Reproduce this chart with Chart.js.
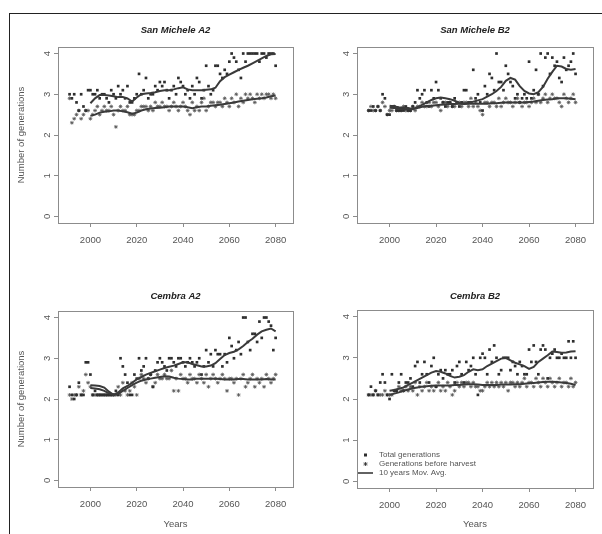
<!DOCTYPE html>
<html>
<head>
<meta charset="utf-8">
<script src="https://cdn.jsdelivr.net/npm/chart.js@4.4.0/dist/chart.umd.min.js"></script>
<style>
  body { margin: 0; background: #fff; }
  #page { position: relative; width: 602px; height: 534px; overflow: hidden; background: #fff; }
  #frame { position: absolute; left: 9px; top: 13px; width: 600px; height: 530px;
           border-left: 1px solid #222; border-top: 1px solid #222; }
  #page canvas { position: absolute; }
</style>
</head>
<body>
<div id="page">
  <div id="frame"></div>
  <canvas id="p1" width="292" height="246" style="left:10px; top:14px;"></canvas>
  <canvas id="p2" width="300" height="246" style="left:302px; top:14px;"></canvas>
  <canvas id="p3" width="292" height="272" style="left:10px; top:262px;"></canvas>
  <canvas id="p4" width="300" height="272" style="left:302px; top:262px;"></canvas>
</div>

<script>
  // yearly values 1991-2080, moving averages read every 2 years 2000-2080
  const years = Array.from({ length: 90 }, (_, i) => 1991 + i);
  const maYears = Array.from({ length: 41 }, (_, i) => 2000 + 2 * i);
  const xTicks = [2000, 2020, 2040, 2060, 2080];
  const yTicks = [0, 1, 2, 3, 4];

  // San Michele A2
  const smA2Total = [
    3.0, 2.9, 3.0, 2.8, 2.6, 3.0, 2.7, 2.6, 3.1, 3.1,
    3.0, 3.0, 3.1, 2.9, 3.0, 3.0, 2.9, 2.8, 3.1, 3.0,
    2.9, 3.2, 3.0, 3.1, 2.9, 3.2, 2.8, 2.8, 2.9, 3.0,
    3.5, 3.0, 3.1, 3.4, 2.9, 3.0, 3.0, 3.2, 3.1, 3.3,
    3.2, 3.3, 3.1, 2.9, 3.1, 3.2, 3.0, 3.4, 3.3, 3.2,
    3.0, 3.1, 2.9, 3.2, 3.0, 3.4, 3.3, 2.9, 3.1, 3.7,
    3.2, 3.0, 3.1, 3.7, 3.7, 3.5, 3.4, 3.6, 3.5, 3.8,
    4.0, 3.9, 3.8, 3.6, 3.4, 4.0, 3.8, 4.0, 4.0, 4.0,
    4.0, 4.0, 3.8, 4.0, 4.0, 3.9, 4.0, 4.0, 4.0, 3.7
  ];
  const smA2Before = [
    2.9, 2.3, 2.4, 2.5, 2.6, 2.4, 2.5, 2.6, 2.6, 2.4,
    2.5, 2.6, 2.7, 2.5, 2.6, 2.7, 2.6, 2.6, 2.7, 2.5,
    2.2, 2.6, 2.7, 2.6, 2.6, 2.7, 2.5, 2.5, 2.5, 2.6,
    2.6, 2.7, 2.7, 2.7, 2.6, 2.7, 2.6, 2.8, 2.7, 2.7,
    2.8, 2.7, 2.7, 2.6, 2.7, 2.8, 2.7, 2.6, 2.7, 2.8,
    2.7, 2.6, 2.5, 2.8, 2.6, 2.7, 2.6, 2.8, 2.9, 2.6,
    2.7, 2.8, 2.8, 2.7, 2.8, 2.8, 2.7, 2.9, 2.8, 2.7,
    2.9, 2.8, 3.0, 2.7, 2.9, 2.8, 3.0, 2.9, 3.0, 2.9,
    2.8, 3.0, 2.9, 3.0, 2.9, 3.0, 3.0, 2.9, 3.0, 2.9
  ];
  const smA2TotalAvg = [
    2.78, 2.9, 2.98, 2.98, 2.97, 2.95, 2.93, 2.93, 2.9, 2.82,
    2.92, 3.0, 3.02, 3.03, 3.05, 3.08, 3.1, 3.1, 3.12, 3.15,
    3.17, 3.12, 3.1, 3.1, 3.1, 3.11, 3.12, 3.16, 3.32, 3.42,
    3.48, 3.54, 3.6, 3.65, 3.7, 3.76, 3.82, 3.88, 3.94, 3.98,
    3.99
  ];
  const smA2BeforeAvg = [
    2.47, 2.5, 2.55, 2.57, 2.58, 2.6, 2.6, 2.58, 2.56, 2.52,
    2.55, 2.6, 2.63, 2.65, 2.66, 2.67, 2.68, 2.7, 2.7, 2.7,
    2.7, 2.68, 2.66, 2.68, 2.7, 2.7, 2.72, 2.73, 2.74, 2.76,
    2.78, 2.8, 2.82, 2.84, 2.86, 2.88, 2.89, 2.9, 2.92, 2.95,
    2.97
  ];

  // San Michele B2
  const smB2Total = [
    2.6, 2.6, 2.7, 2.6, 2.7, 2.6, 3.0, 2.9, 2.5, 2.5,
    2.7, 2.7, 2.6, 2.6, 2.6, 2.6, 2.7, 2.6, 2.6, 2.7,
    2.8, 3.1, 2.9, 3.0, 3.1, 2.8, 2.7, 3.1, 2.9, 3.3,
    3.1, 2.9, 2.8, 2.7, 2.8, 2.8, 2.7, 2.9, 2.8, 2.7,
    2.8, 3.1, 3.1, 2.8, 2.8, 3.6, 2.9, 3.0, 2.8, 2.6,
    3.2, 3.0, 3.5, 3.4, 3.1, 4.0, 3.3, 3.3, 3.1, 3.7,
    3.5, 3.3, 3.2, 2.9, 3.0, 2.8, 2.9, 3.0, 2.9, 3.8,
    2.9, 3.1, 3.6, 3.0, 4.0, 3.2, 3.9, 4.0, 3.5, 3.9,
    3.7, 3.8, 3.4, 3.3, 3.9, 3.6, 3.7, 3.8, 4.0, 3.5
  ];
  const smB2Before = [
    2.6, 2.7, 2.6, 2.6, 2.7, 2.6, 2.8, 2.7, 2.5, 2.6,
    2.6, 2.7, 2.6, 2.6, 2.6, 2.7, 2.6, 2.6, 2.6, 2.7,
    2.6, 2.7, 2.7, 2.8, 2.7, 2.7, 2.8, 2.7, 2.8, 2.8,
    2.7, 2.6, 2.8, 2.8, 2.7, 2.8, 2.7, 2.7, 2.8, 2.8,
    2.7, 2.8, 2.8, 2.7, 2.9, 2.7, 2.8, 2.7, 2.6, 2.5,
    2.8, 2.8, 2.7, 2.8, 2.8, 2.7, 2.9, 2.7, 2.8, 2.9,
    2.8, 2.8, 2.7, 2.8, 2.9, 2.8, 2.7, 2.8, 2.8, 2.7,
    2.8, 2.9, 2.8, 3.0, 2.8, 2.9, 3.0, 2.8, 2.9, 3.0,
    2.9, 2.9, 2.8, 2.7, 3.0, 2.9, 2.8, 2.9, 3.0, 2.8
  ];
  const smB2TotalAvg = [
    2.72, 2.7, 2.68, 2.67, 2.66, 2.64, 2.68, 2.74, 2.8, 2.86,
    2.9, 2.92, 2.9, 2.88, 2.84, 2.78, 2.76, 2.78, 2.82, 2.85,
    2.88, 2.94, 3.0, 3.08, 3.18, 3.33, 3.4, 3.36, 3.2, 3.08,
    3.02, 3.0, 3.05, 3.18, 3.38, 3.55, 3.7, 3.68, 3.62, 3.6,
    3.62
  ];
  const smB2BeforeAvg = [
    2.67, 2.66, 2.65, 2.64, 2.63, 2.64, 2.66, 2.69, 2.71, 2.72,
    2.73, 2.74, 2.75, 2.76, 2.76, 2.77, 2.77, 2.77, 2.77, 2.77,
    2.77, 2.77, 2.78, 2.78, 2.79, 2.8, 2.8, 2.8, 2.8, 2.8,
    2.81, 2.82, 2.84, 2.86, 2.87, 2.88, 2.9, 2.9, 2.9, 2.89,
    2.88
  ];

  // Cembra A2
  const ceA2Total = [
    2.3, 2.1, 2.0, 2.1, 2.4, 2.1, 2.1, 2.9, 2.9, 2.6,
    2.1, 2.2, 2.1, 2.1, 2.1, 2.1, 2.1, 2.1, 2.1, 2.1,
    2.2, 2.1, 3.0, 2.8, 2.6, 2.4, 2.1, 2.1, 2.6, 2.5,
    3.0, 2.7, 2.8, 3.0, 2.5, 2.6, 2.3, 2.7, 2.9, 3.0,
    2.9, 2.8, 2.7, 3.0, 3.0, 2.9, 2.8, 3.0, 3.0, 2.9,
    2.8, 2.9, 3.0, 2.9, 2.8, 2.9, 3.0, 2.6, 2.8, 3.2,
    2.9, 3.1, 2.8, 3.2, 3.1, 3.1, 2.8, 3.1, 2.9, 3.5,
    3.3, 3.0, 3.2, 3.4, 3.1, 4.0, 4.0, 3.4, 3.2, 3.6,
    3.6, 3.4, 3.9, 3.5, 4.0, 4.0, 3.9, 3.8, 3.2, 3.5
  ];
  const ceA2Before = [
    2.1, 2.0, 2.1, 2.1, 2.3, 2.1, 2.2, 2.6, 2.4, 2.3,
    2.1, 2.1, 2.1, 2.1, 2.1, 2.1, 2.1, 2.1, 2.1, 2.1,
    2.1, 2.3, 2.1, 2.4, 2.2, 2.1, 2.2, 2.4, 2.3, 2.1,
    2.5, 2.6, 2.5, 2.4, 2.5, 2.6, 2.3, 2.4, 2.6, 2.5,
    2.5, 2.6, 2.5, 2.5, 2.7, 2.2, 2.5, 2.2, 2.6, 2.5,
    2.5, 2.4, 2.6, 2.5, 2.5, 2.4, 2.6, 2.5, 2.4, 2.6,
    2.3, 2.5, 2.6, 2.5, 2.4, 2.5, 2.6, 2.5, 2.2, 2.5,
    2.5, 2.4, 2.5, 2.1, 2.5, 2.6, 2.3, 2.4, 2.5, 2.6,
    2.3, 2.5, 2.4, 2.5, 2.3, 2.6, 2.5, 2.4, 2.5, 2.6
  ];
  const ceA2TotalAvg = [
    2.34, 2.33, 2.32, 2.28, 2.18, 2.1, 2.16, 2.26, 2.32, 2.4,
    2.48, 2.54, 2.6, 2.64, 2.68, 2.72, 2.76, 2.79, 2.82, 2.86,
    2.9, 2.9, 2.86, 2.83, 2.8, 2.8, 2.82, 2.88, 2.98, 3.08,
    3.13, 3.16, 3.22, 3.3, 3.4, 3.48, 3.58, 3.66, 3.7, 3.73,
    3.66
  ];
  const ceA2BeforeAvg = [
    2.27, 2.26, 2.24, 2.2, 2.14, 2.1, 2.13, 2.2, 2.27, 2.34,
    2.4, 2.45, 2.48, 2.5, 2.52, 2.54, 2.56, 2.55, 2.52, 2.5,
    2.49, 2.48, 2.48, 2.5, 2.5, 2.5, 2.5, 2.5, 2.49, 2.48,
    2.48, 2.48, 2.49, 2.49, 2.48, 2.48, 2.48, 2.48, 2.49, 2.48,
    2.48
  ];

  // Cembra B2
  const ceB2Total = [
    2.1, 2.3, 2.1, 2.2, 2.1, 2.4, 2.6, 2.4, 2.1, 2.0,
    2.6, 2.2, 2.2, 2.4, 2.6, 2.2, 2.4, 2.4, 2.5, 2.3,
    2.8, 2.9, 2.4, 2.6, 2.9, 2.6, 2.4, 2.8, 3.0, 2.3,
    2.6, 2.7, 2.5, 2.7, 2.6, 2.6, 2.7, 2.4, 2.8, 2.9,
    2.6, 2.4, 2.9, 2.7, 2.8, 3.0, 2.6, 2.1, 3.0, 3.1,
    3.0, 2.6, 3.2, 2.9, 3.3, 3.0, 2.6, 2.7, 3.0, 3.0,
    3.0, 2.7, 2.9, 2.8, 2.6, 2.9, 2.8, 2.6, 2.6, 3.2,
    2.9, 3.3, 2.9, 2.6, 3.2, 3.3, 3.2, 2.5, 3.0, 3.1,
    3.2, 3.0, 3.0, 3.1, 3.0, 3.0, 3.4, 3.0, 3.4, 3.0
  ];
  const ceB2Before = [
    2.1, 2.1, 2.1, 2.2, 2.1, 2.1, 2.1, 2.2, 2.1, 2.1,
    2.1, 2.2, 2.2, 2.3, 2.2, 2.2, 2.3, 2.2, 2.3, 2.2,
    2.4, 2.1, 2.3, 2.2, 2.3, 2.4, 2.2, 2.3, 2.2, 2.3,
    2.4, 2.2, 2.3, 2.2, 2.4, 2.3, 2.1, 2.2, 2.4, 2.3,
    2.4, 2.3, 2.4, 2.4, 2.3, 2.4, 2.3, 2.3, 2.2, 2.2,
    2.3, 2.4, 2.3, 2.4, 2.3, 2.4, 2.3, 2.4, 2.3, 2.4,
    2.2, 2.4, 2.4, 2.3, 2.4, 2.3, 2.4, 2.5, 2.3, 2.4,
    2.4, 2.3, 2.5, 2.4, 2.3, 2.5, 2.4, 2.3, 2.5, 2.4,
    2.3, 2.4, 2.5, 2.3, 2.4, 2.4, 2.3, 2.5, 2.3, 2.4
  ];
  const ceB2TotalAvg = [
    2.2, 2.22, 2.25, 2.28, 2.34, 2.4, 2.46, 2.52, 2.58, 2.64,
    2.68, 2.66, 2.62, 2.56, 2.52, 2.54, 2.58, 2.66, 2.72, 2.7,
    2.72, 2.8, 2.86, 2.92, 2.98, 3.0, 2.94, 2.88, 2.84, 2.8,
    2.73, 2.78, 2.9, 2.98, 3.06, 3.15, 3.14, 3.12, 3.13, 3.15,
    3.16
  ];
  const ceB2BeforeAvg = [
    2.1, 2.13, 2.16, 2.2, 2.23, 2.26, 2.28, 2.3, 2.31, 2.32,
    2.33, 2.33, 2.33, 2.33, 2.34, 2.34, 2.35, 2.36, 2.36, 2.35,
    2.34, 2.34, 2.34, 2.34, 2.35, 2.35, 2.35, 2.36, 2.36, 2.37,
    2.38, 2.39, 2.4, 2.41, 2.42, 2.42, 2.41, 2.4, 2.39, 2.37,
    2.34
  ];

  const ink = '#2e2e2e';
  const axisGrey = '#8c8c8c';
  const textGrey = '#555';
  Chart.defaults.font.family = '"Liberation Sans", Arial, sans-serif';

  const toPoints = (xs, ys) => ys.map((y, i) => ({ x: xs[i], y: y }));

  // R style full box around the plot region
  const boxPlugin = {
    id: 'plotBox',
    afterDatasetsDraw(chart) {
      const { ctx, chartArea: a } = chart;
      ctx.save();
      ctx.strokeStyle = axisGrey;
      ctx.lineWidth = 1;
      ctx.strokeRect(Math.round(a.left) + 0.5, Math.round(a.top) + 0.5,
                     Math.round(a.width), Math.round(a.height));
      ctx.restore();
    }
  };

  // legend in the bottom left corner of the plot (only on Cembra B2)
  const cornerLegend = {
    id: 'cornerLegend',
    afterDraw(chart, args, opts) {
      if (!opts.show) return;
      const { ctx, chartArea: a } = chart;
      const ds = chart.data.datasets;
      const rows = [a.bottom - 33, a.bottom - 24, a.bottom - 15];
      ctx.save();
      ctx.fillStyle = ink;
      ctx.strokeStyle = ink;
      // total generations: filled square
      ctx.fillRect(a.left + 7, rows[0] - 1.5, 3, 3);
      // before harvest: asterisk
      ctx.lineWidth = 0.8;
      ctx.beginPath();
      const cx = a.left + 8.5, cy = rows[1];
      ctx.moveTo(cx - 2, cy); ctx.lineTo(cx + 2, cy);
      ctx.moveTo(cx, cy - 2); ctx.lineTo(cx, cy + 2);
      ctx.moveTo(cx - 1.5, cy - 1.5); ctx.lineTo(cx + 1.5, cy + 1.5);
      ctx.moveTo(cx - 1.5, cy + 1.5); ctx.lineTo(cx + 1.5, cy - 1.5);
      ctx.stroke();
      // moving average: line
      ctx.lineWidth = 1.5;
      ctx.beginPath();
      ctx.moveTo(a.left + 1, rows[2]); ctx.lineTo(a.left + 16, rows[2]);
      ctx.stroke();
      ctx.fillStyle = textGrey;
      ctx.font = '8px "Liberation Sans", Arial, sans-serif';
      ctx.textBaseline = 'middle';
      ctx.fillText(ds[0].label, a.left + 22, rows[0]);
      ctx.fillText(ds[1].label, a.left + 22, rows[1]);
      ctx.fillText(ds[2].label, a.left + 22, rows[2]);
      ctx.restore();
    }
  };

  function makePanel(id, p) {
    new Chart(document.getElementById(id), {
      type: 'scatter',
      data: {
        datasets: [
          {
            label: 'Total generations',
            data: toPoints(years, p.total),
            pointStyle: 'rect', pointRadius: 1.9,
            backgroundColor: ink, borderColor: ink, borderWidth: 0,
            order: 2
          },
          {
            label: 'Generations before harvest',
            data: toPoints(years, p.before),
            pointStyle: 'star', pointRadius: 1.9,
            borderColor: '#555', borderWidth: 0.8,
            order: 3
          },
          {
            label: '10 years Mov. Avg.',
            data: toPoints(maYears, p.totalAvg),
            showLine: true, pointRadius: 0,
            borderColor: '#3a3a3a', borderWidth: 2,
            order: 0
          },
          {
            label: '10 years Mov. Avg.',
            data: toPoints(maYears, p.beforeAvg),
            showLine: true, pointRadius: 0,
            borderColor: '#3a3a3a', borderWidth: 2,
            order: 1
          }
        ]
      },
      options: {
        responsive: false,
        animation: false,
        devicePixelRatio: 1,
        layout: { padding: { left: 0, right: p.padRight, top: 0, bottom: 0 } },
        plugins: {
          legend: { display: false },
          tooltip: { enabled: false },
          cornerLegend: { show: p.legend },
          title: {
            display: true,
            text: p.title,
            fullSize: false,
            color: '#222',
            font: { size: 9.5, weight: 'bold', style: 'italic', lineHeight: 1.2 },
            padding: { top: p.titleTop, bottom: p.titleBottom }
          }
        },
        scales: {
          x: {
            type: 'linear',
            min: 1986,
            max: 2087.5,
            afterBuildTicks: (s) => { s.ticks = xTicks.map((v) => ({ value: v })); },
            afterFit: (s) => { s.height = p.xHeight; },
            border: { display: false },
            grid: { drawOnChartArea: false, drawTicks: true, tickLength: 4, color: axisGrey },
            ticks: { color: textGrey, font: { size: 9.5 }, padding: 8, maxRotation: 0,
                     callback: (v) => String(v) },
            title: {
              display: p.xTitle,
              text: 'Years',
              color: textGrey,
              font: { size: 9.5 },
              padding: { top: 0, bottom: 4 }
            }
          },
          y: {
            min: -0.16,
            max: 4.16,
            afterBuildTicks: (s) => { s.ticks = yTicks.map((v) => ({ value: v })); },
            afterFit: (s) => { s.width = p.yWidth; },
            border: { display: false },
            grid: { drawOnChartArea: false, drawTicks: true, tickLength: 4, color: axisGrey },
            ticks: { color: textGrey, font: { size: 9.5 }, padding: 4,
                     minRotation: 90, maxRotation: 90, crossAlign: 'center' },
            title: {
              display: p.yTitle,
              text: 'Number of generations',
              color: textGrey,
              font: { size: 9.5 },
              padding: { top: 6, bottom: 0 }
            }
          }
        }
      },
      plugins: [boxPlugin, cornerLegend]
    });
  }

  makePanel('p1', {
    title: 'San Michele A2', total: smA2Total, before: smA2Before,
    totalAvg: smA2TotalAvg, beforeAvg: smA2BeforeAvg,
    padRight: 9, yWidth: 48, xHeight: 37, titleTop: 11, titleBottom: 10.6,
    xTitle: false, yTitle: true, legend: false
  });
  makePanel('p2', {
    title: 'San Michele B2', total: smB2Total, before: smB2Before,
    totalAvg: smB2TotalAvg, beforeAvg: smB2BeforeAvg,
    padRight: 9, yWidth: 55, xHeight: 37, titleTop: 11, titleBottom: 10.6,
    xTitle: false, yTitle: false, legend: false
  });
  makePanel('p3', {
    title: 'Cembra A2', total: ceA2Total, before: ceA2Before,
    totalAvg: ceA2TotalAvg, beforeAvg: ceA2BeforeAvg,
    padRight: 9, yWidth: 48, xHeight: 47, titleTop: 29, titleBottom: 8.6,
    xTitle: true, yTitle: true, legend: false
  });
  makePanel('p4', {
    title: 'Cembra B2', total: ceB2Total, before: ceB2Before,
    totalAvg: ceB2TotalAvg, beforeAvg: ceB2BeforeAvg,
    padRight: 9, yWidth: 55, xHeight: 46, titleTop: 29, titleBottom: 7.6,
    xTitle: true, yTitle: false, legend: true
  });
</script>
</body>
</html>
